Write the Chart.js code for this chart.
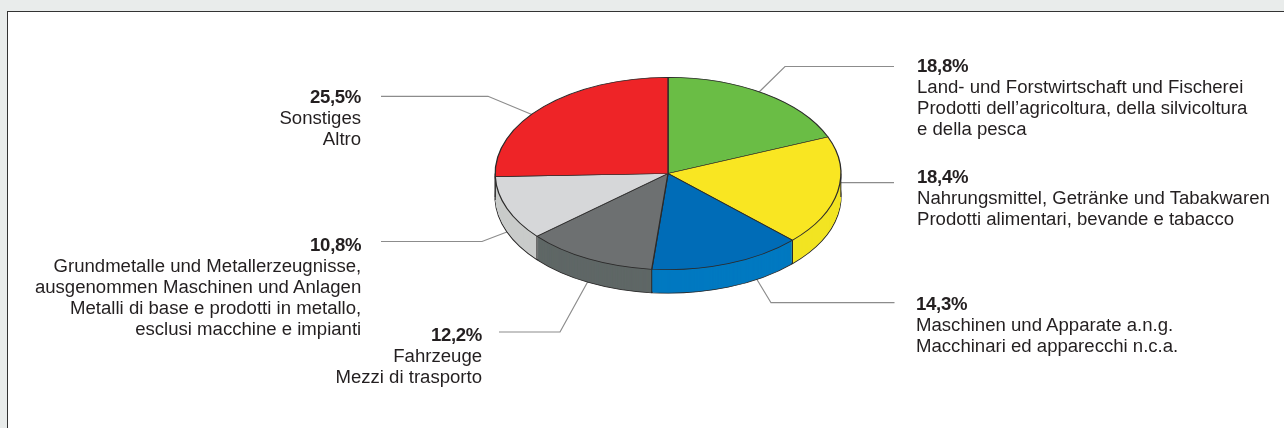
<!DOCTYPE html>
<html>
<head>
<meta charset="utf-8">
<script src="https://cdn.jsdelivr.net/npm/chart.js@4"></script>
<style>
    html, body { margin: 0; padding: 0; }
    body { width: 1284px; height: 428px; overflow: hidden; position: relative; background: #e9eceb; font-family: "Liberation Sans", sans-serif; }
    .panel { position: absolute; left: 7px; top: 11px; width: 1277px; height: 417px; box-sizing: border-box; background: #fff; border-left: 1px solid #333; border-top: 1px solid #333; }
    canvas { position: absolute; left: 0; top: 0; }
    .callout { position: absolute; font-size: 18px; line-height: 21px; color: #231f20; white-space: nowrap; transform: scaleX(1.032); }
    .callout b { display: block; letter-spacing: -0.3px; }
    .callout span { display: block; }
</style>
</head>
<body>
<div class="panel"></div>
<canvas id="chart" width="1284" height="428"></canvas>
<script>
const categories = [
    'Land- und Forstwirtschaft und Fischerei',
    'Nahrungsmittel, Getränke und Tabakwaren',
    'Maschinen und Apparate a.n.g.',
    'Fahrzeuge',
    'Grundmetalle und Metallerzeugnisse',
    'Sonstiges'
];
const shares = [18.8, 18.4, 14.3, 12.2, 10.8, 25.5];
const shareLabels = ['18,8%', '18,4%', '14,3%', '12,2%', '10,8%', '25,5%'];
const labelLines = [
    ['Land- und Forstwirtschaft und Fischerei', 'Prodotti dell’agricoltura, della silvicoltura', 'e della pesca'],
    ['Nahrungsmittel, Getränke und Tabakwaren', 'Prodotti alimentari, bevande e tabacco'],
    ['Maschinen und Apparate a.n.g.', 'Macchinari ed apparecchi n.c.a.'],
    ['Fahrzeuge', 'Mezzi di trasporto'],
    ['Grundmetalle und Metallerzeugnisse,', 'ausgenommen Maschinen und Anlagen', 'Metalli di base e prodotti in metallo,', 'esclusi macchine e impianti'],
    ['Sonstiges', 'Altro']
];
const topColors = ['#6abd45', '#f9e622', '#006cb7', '#6d7071', '#d6d7d9', '#ee2427'];
const rimColors = ['#5ea83d', '#f2e422', '#0079c1', '#5f6766', '#c9cbca', '#c81e22'];

// where each text block sits
const calloutPos = [
    { left: 917, top: 55.5 },
    { left: 917, top: 167 },
    { left: 916, top: 294 },
    { right: 482, top: 325 },
    { right: 361, top: 235 },
    { right: 361, top: 87 }
];
// leader lines, they run under the pie
const leaders = [
    [[894, 66.5], [785, 66.5], [755, 96]],
    [[894, 182.7], [830, 182.7]],
    [[894.5, 302.7], [771, 302.7], [750, 268]],
    [[499, 332], [560, 332], [592, 274]],
    [[381, 241.5], [482, 241.5], [520, 227]],
    [[381, 96.3], [488, 96.3], [545, 120]]
];

const TILT = 0.5566;
const DEPTH = 23.5;
const OUTLINE = '#2b2a2a';

const tiltTransform = (ctx, cx, cy, offset) => {
    ctx.translate(cx, cy + offset);
    ctx.scale(1, TILT);
    ctx.translate(-cx, -cy);
};

const pie3d = {
    id: 'pie3d',
    beforeDatasetsDraw(chart) {
        const ctx = chart.ctx;
        const arcs = chart.getDatasetMeta(0).data;
        const { x: cx, y: cy, outerRadius: r } = arcs[0];

        ctx.save();
        ctx.strokeStyle = '#8c8c8c';
        ctx.lineWidth = 1.2;
        leaders.forEach((pts) => {
            ctx.beginPath();
            pts.forEach(([x, y], i) => (i ? ctx.lineTo(x, y) : ctx.moveTo(x, y)));
            ctx.stroke();
        });
        ctx.restore();

        // rim: same slices stacked from the bottom up
        for (let off = DEPTH; off >= 1; off--) {
            arcs.forEach((arc, i) => {
                const opts = arc.options;
                arc.options = { ...opts, backgroundColor: rimColors[i], borderWidth: off === DEPTH ? 1.3 : 0 };
                ctx.save();
                tiltTransform(ctx, cx, cy, off);
                arc.draw(ctx);
                ctx.restore();
                arc.options = opts;
            });
        }

        // vertical seams under the slice edges
        ctx.save();
        ctx.strokeStyle = OUTLINE;
        ctx.lineWidth = 1;
        const seamAngles = [0, Math.PI, ...arcs.map((arc) => arc.startAngle)];
        seamAngles.forEach((a) => {
            const sin = Math.sin(a);
            if (sin < -0.001) return;
            const x = cx + r * Math.cos(a);
            const y = cy + r * TILT * sin;
            ctx.beginPath();
            ctx.moveTo(x, y);
            ctx.lineTo(x, y + DEPTH);
            ctx.stroke();
        });
        ctx.restore();

        ctx.save();
        tiltTransform(ctx, cx, cy, 0);
    },
    afterDatasetsDraw(chart) {
        chart.ctx.restore();
    }
};

new Chart(document.getElementById('chart'), {
    type: 'pie',
    data: {
        labels: categories,
        datasets: [{
            data: shares,
            backgroundColor: topColors,
            borderColor: OUTLINE,
            borderWidth: 1.3,
            borderJoinStyle: 'bevel',
            clip: false
        }]
    },
    options: {
        responsive: false,
        animation: false,
        layout: { padding: { left: 494, right: 442, top: -1, bottom: 81 } },
        plugins: { legend: { display: false }, tooltip: { enabled: false } }
    },
    plugins: [pie3d]
});

shares.forEach((_, i) => {
    const box = document.createElement('div');
    box.className = 'callout';
    const pos = calloutPos[i];
    box.style.top = `${pos.top}px`;
    if (pos.left !== undefined) {
        box.style.left = `${pos.left}px`;
        box.style.transformOrigin = 'left top';
    } else {
        box.style.right = `${1284 - pos.right}px`;
        box.style.textAlign = 'right';
        box.style.transformOrigin = 'right top';
    }
    const value = document.createElement('b');
    value.textContent = shareLabels[i];
    box.appendChild(value);
    labelLines[i].forEach((line) => {
        const row = document.createElement('span');
        row.textContent = line;
        box.appendChild(row);
    });
    document.body.appendChild(box);
});
</script>
</body>
</html>
